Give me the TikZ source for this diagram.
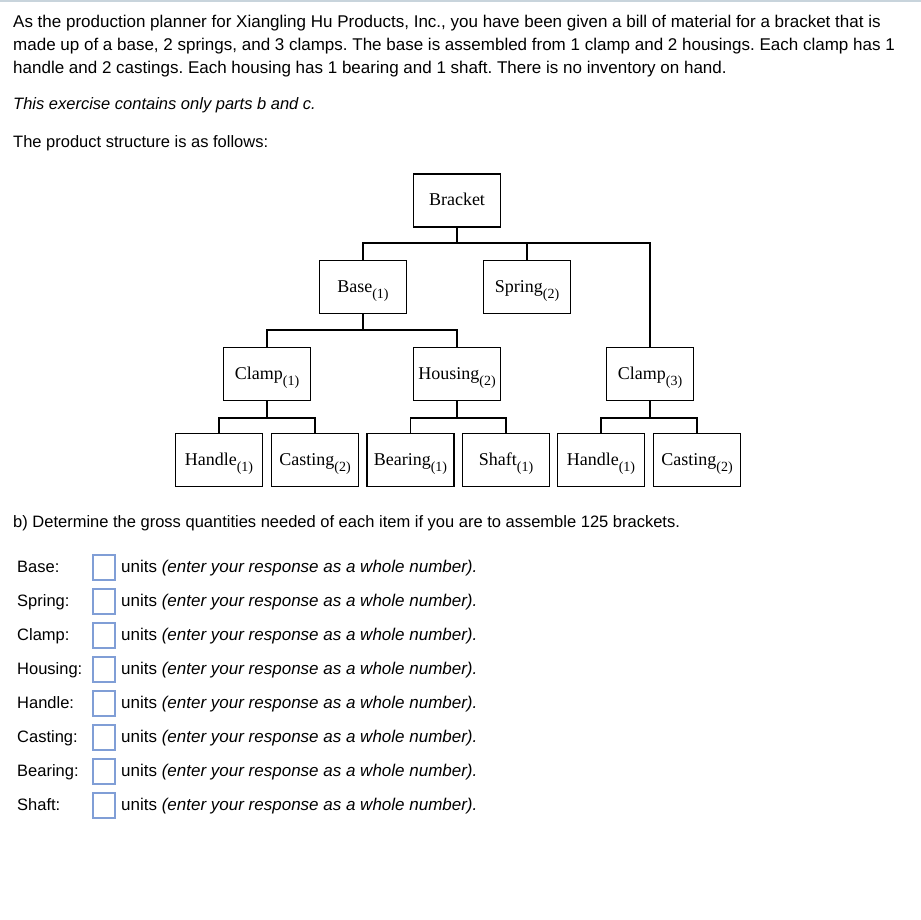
\documentclass[tikz,border=0pt]{standalone}
\usepackage{fontspec}
\setmainfont{Liberation Sans}
\newfontfamily\tms{Liberation Serif}
\definecolor{ansblue}{RGB}{128,158,214}
\definecolor{topline}{RGB}{200,212,220}
\newcommand\qty[1]{\raisebox{-6pt}{\fontsize{14}{16}\selectfont(#1)}}
\begin{document}
\frenchspacing
\begin{tikzpicture}[x=1pt,y=-1pt,
  part/.style={draw, line width=1.2pt, minimum width=87pt, minimum height=53pt, inner sep=0pt,
    text height=10pt, text depth=0pt, font=\tms\fontsize{18}{20}\selectfont},
  conn/.style={line width=1.2pt},
  body/.style={anchor=base west, inner sep=0pt, font=\fontsize{16.5}{20}\selectfont},
  intro/.style={body, font=\fontsize{17}{20}\selectfont},
  unitsty/.style={body, font=\fontsize{17}{20}\selectfont},
  ans/.style={draw=ansblue, line width=1.2pt, minimum width=22pt, minimum height=25pt, inner sep=0pt}]
\useasboundingbox (0,0) rectangle (921,919);
\fill[white] (0,0) rectangle (921,919);
\draw[topline, line width=2pt] (0,1) -- (921,1);

% intro text
\node[intro] (t1) at (13,27.5) {As the production planner for Xiangling Hu Products, Inc., you have been given a bill of material for a bracket that is};
\node[intro] (t2) at (13,50.5) {made up of a base, 2 springs, and 3 clamps. The base is assembled from 1 clamp and 2 housings. Each clamp has 1};
\node[intro] (t3) at (13,73.5) {handle and 2 castings. Each housing has 1 bearing and 1 shaft. There is no inventory on hand.};
\node[body] (t4) at (13,109.5) {\itshape This exercise contains only parts b and c.};
\node[body] (t5) at (13,147.5) {The product structure is as follows:};

% product structure
\node[part] (bracket) at (457,200.5) {Bracket};
\node[part] (base) at (363,287) {Base\qty{1}};
\node[part] (spring) at (527,287) {Spring\qty{2}};
\node[part] (clampA) at (267,374) {Clamp\qty{1}};
\node[part] (housing) at (457,374) {Housing\qty{2}};
\node[part] (clampB) at (650,374) {Clamp\qty{3}};
\node[part] (handleA) at (219,460) {Handle\qty{1}};
\node[part] (castingA) at (315,460) {Casting\qty{2}};
\node[part] (bearing) at (410.5,460) {Bearing\qty{1}};
\node[part] (shaft) at (506,460) {Shaft\qty{1}};
\node[part] (handleB) at (601,460) {Handle\qty{1}};
\node[part] (castingB) at (697,460) {Casting\qty{2}};

\coordinate (b1) at (0,243);
\coordinate (b2) at (0,330);
\coordinate (b3) at (0,418);
\draw[conn] (bracket.south) -- (bracket.south |- b1);
\draw[conn] (base.north) |- (clampB.north |- b1) -- (clampB.north);
\draw[conn] (spring.north) -- (spring.north |- b1);
\draw[conn] (base.south) -- (base.south |- b2);
\draw[conn] (clampA.north) |- (housing.north |- b2) -- (housing.north);
\draw[conn] (clampA.south) -- (clampA.south |- b3);
\draw[conn] (handleA.north) |- (castingA.north |- b3) -- (castingA.north);
\draw[conn] (housing.south) -- (housing.south |- b3);
\draw[conn] (bearing.north) |- (shaft.north |- b3) -- (shaft.north);
\draw[conn] (clampB.south) -- (clampB.south |- b3);
\draw[conn] (handleB.north) |- (castingB.north |- b3) -- (castingB.north);

% part b
\node[body] (pb) at (13,527) {b) Determine the gross quantities needed of each item if you are to assemble 125 brackets.};
\foreach \lab [count=\i from 0] in {Base,Spring,Clamp,Housing,Handle,Casting,Bearing,Shaft} {
  \node[body] (lab\i) at (17,572+34*\i) {\lab:};
  \node[ans] (box\i) at (104,567.5+34*\i) {};
  \node[unitsty] (unit\i) at (121,572+34*\i) {units \textit{(enter your response as a whole number).}};
}
\end{tikzpicture}
\end{document}
